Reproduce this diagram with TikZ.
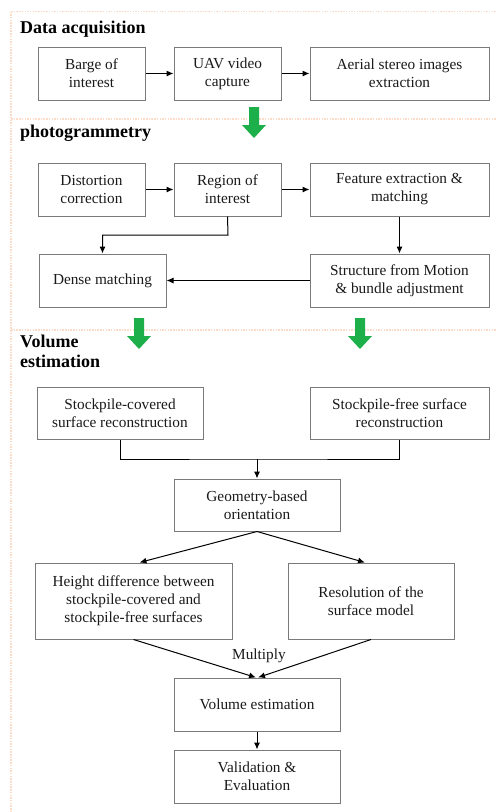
\documentclass[tikz,border=0pt]{standalone}
\usepackage{fontspec}
\setmainfont{Liberation Serif}
\usetikzlibrary{arrows.meta,calc}
\definecolor{secline}{HTML}{FBDCC8}
\definecolor{boxline}{HTML}{7A7A7A}
\definecolor{bigarrow}{HTML}{1DB04A}
\definecolor{txt}{HTML}{1A1A1A}
\begin{document}
\begin{tikzpicture}[x=1pt,y=-1pt,
  box/.style={draw=boxline,line width=1pt,fill=white,align=center,inner sep=0pt,
     font=\fontsize{15.3}{18}\selectfont,text=txt},
  conn/.style={draw=black,line width=1pt,-{Latex[length=7pt,width=6pt]}},
  title/.style={font=\fontsize{18}{20}\selectfont\bfseries,text=black,inner sep=0pt,anchor=base west},
  sec/.style={draw=secline,line width=1.3pt,dash pattern=on 1.5pt off 1.2pt},
  garrow/.style={fill=bigarrow,draw=none}]
\useasboundingbox (0,0) rectangle (496,812);
% section lines
\draw[sec] (11,11.5) -- (496,11.5);
\draw[sec] (11,119) -- (496,119);
\draw[sec] (11,330) -- (496,330);
\draw[sec] (11,11.5) -- (11,812);
% titles
\node[title] (t1) at (20,33) {Data acquisition};
\node[title] (t2) at (20,137.5) {photogrammetry};
\node[title] (t3) at (20,347) {Volume};
\node[title] (t4) at (20,367) {estimation};
% boxes
\node[box,minimum width=107pt,minimum height=53pt] (barge) at (91.5,73.5) {Barge of\\interest};
\node[box,minimum width=107pt,minimum height=53pt] (uav) at (227.5,73.5) {UAV video\\capture};
\node[box,minimum width=179pt,minimum height=53pt] (aerial) at (399.5,73.5) {Aerial stereo images\\extraction};
\node[box,minimum width=107pt,minimum height=53pt] (dist) at (91.5,189.5) {Distortion\\correction};
\node[box,minimum width=107pt,minimum height=53pt] (roi) at (227.5,189.5) {Region of\\interest};
\node[box,minimum width=179pt,minimum height=53pt] (feat) at (399.5,189.5) {Feature extraction \&\\matching};
\node[box,minimum width=127pt,minimum height=53pt] (dense) at (102.5,280.5) {Dense matching};
\node[box,minimum width=179pt,minimum height=53pt] (sfm) at (399.5,280.5) {Structure from Motion\\\& bundle adjustment};
\node[box,minimum width=166pt,minimum height=52pt] (cov) at (120,413) {Stockpile-covered\\surface reconstruction};
\node[box,minimum width=179pt,minimum height=52pt] (free) at (399.5,413) {Stockpile-free surface\\reconstruction};
\node[box,minimum width=166pt,minimum height=52pt] (geo) at (257,505) {Geometry-based\\orientation};
\node[box,minimum width=197pt,minimum height=76pt] (height) at (133.5,601) {Height difference between\\stockpile-covered and\\stockpile-free surfaces};
\node[box,minimum width=166pt,minimum height=76pt] (res) at (371,601) {Resolution of the\\surface model};
\node[box,minimum width=166pt,minimum height=53pt] (vol) at (257,704.5) {Volume estimation};
\node[box,minimum width=166pt,minimum height=53pt] (val) at (257,776.5) {Validation \&\\Evaluation};
% green block arrows
\foreach \gx/\gy in {254/107, 139/318, 360/318}{
  \fill[garrow] (\gx-5,\gy) -- (\gx+5,\gy) -- (\gx+5,\gy+18) -- (\gx+12,\gy+18)
     -- (\gx,\gy+31) -- (\gx-12,\gy+18) -- (\gx-5,\gy+18) -- cycle;
}
% connectors
\draw[conn] (barge) -- (uav);
\draw[conn] (uav) -- (aerial);
\draw[conn] (dist) -- (roi);
\draw[conn] (roi) -- (feat);
\coordinate (rbend) at (228,235);
\draw[conn] (roi.south) -- (rbend) -| (dense.north);
\draw[conn] (feat) -- (sfm);
\draw[conn] (sfm) -- (dense);
\coordinate (join) at (257,459);
\draw[line width=1pt] (cov.south) |- (join) -| (free.south);
\draw[conn] (join) -- (geo.north);
\draw[conn] (geo.south) -- ([xshift=6pt]height.north);
\draw[conn] (geo.south) -- ([xshift=-6pt]res.north);
\draw[conn] (height.south) -- ([xshift=-1pt]vol.north);
\draw[conn] (res.south) -- ([xshift=1pt]vol.north);
\node[font=\fontsize{15.3}{18}\selectfont,text=txt,inner sep=0pt] (mult) at (259,656) {Multiply};
\draw[conn] (vol) -- (val);
\end{tikzpicture}
\end{document}
